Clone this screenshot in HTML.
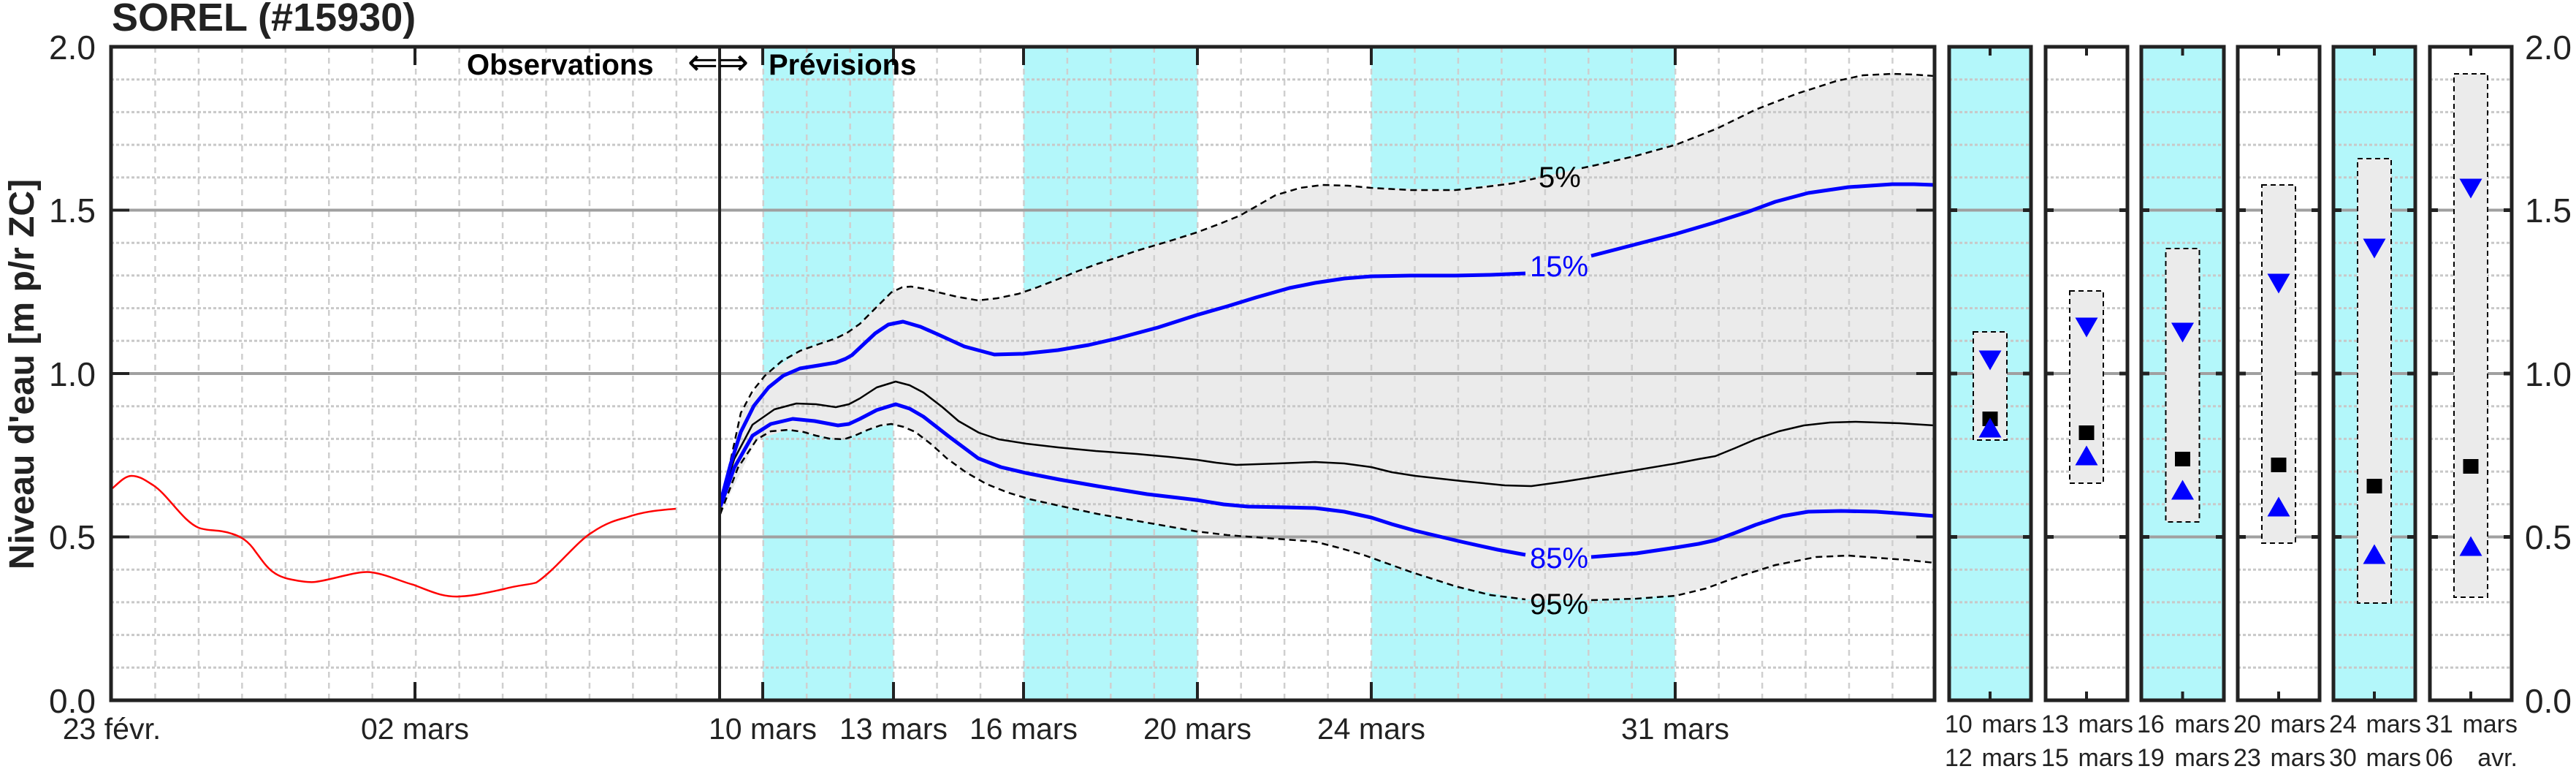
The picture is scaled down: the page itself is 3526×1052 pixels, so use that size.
<!DOCTYPE html>
<html><head><meta charset="utf-8"><style>
html,body{margin:0;padding:0;background:#fff;}
svg{display:block;font-family:"Liberation Sans",Arial,sans-serif;}
</style></head><body>
<svg width="3526" height="1052" viewBox="0 0 3526 1052" xmlns="http://www.w3.org/2000/svg">
<defs>
<clipPath id="main"><rect x="152" y="64" width="2496" height="894"/></clipPath>
</defs>
<rect width="3526" height="1052" fill="#fff"/>

<g fill="#b3f7fa">
<rect x="1044" y="64" width="179" height="894"/>
<rect x="1401" y="64" width="238" height="894"/>
<rect x="1877" y="64" width="416" height="894"/>
</g>

<path clip-path="url(#main)" fill="#ebebeb" d="M986,703 L1014,565 L1047,514 L1095,480 L1144,463 L1177,443 L1220,400 L1247,392 L1285,400 L1339,411 L1394,402 L1448,382 L1502,361 L1556,343 L1638,318 L1697,295 L1746,267 L1810,253 L1877,257 L1992,260 L2102,244 L2184,226 L2294,198 L2403,150 L2513,111 L2590,101 L2648,104 L2648,770 L2568,763 L2486,762 L2376,790 L2294,815 L2178,821 L2088,820 L1992,802 L1866,759 L1800,741 L1719,735 L1638,727 L1502,703 L1410,683 L1350,662 L1296,627 L1253,591 L1220,580 L1188,588 L1155,601 L1117,596 L1079,588 L1036,601 Z"/>

<g clip-path="url(#main)">
<g stroke="#cfcfcf" stroke-width="2.5" stroke-dasharray="8,7" id="vg"></g>
<g stroke="#c8c8c8" stroke-width="3" stroke-dasharray="4,3" id="hg"></g>
<g stroke="#a0a0a0" stroke-width="4">
<line x1="152" y1="734.5" x2="2648" y2="734.5"/>
<line x1="152" y1="511" x2="2648" y2="511"/>
<line x1="152" y1="287.5" x2="2648" y2="287.5"/>
</g>
</g>

<path fill="none" stroke="#ff0000" stroke-width="2.5" stroke-linejoin="round" d="M154,668 C165,658 172,651 180,651 C192,651 200,658 210,664 C230,677 250,713 272,722 C285,727 300,724 317,730 C330,734 340,740 350,755 C365,775 372,788 400,793 C415,796 425,797 432,796 C460,792 490,780 509,783 C530,786 550,796 566,800 C590,809 605,817 629,816 C650,815 670,810 689,806 C710,800 725,800 734,797 C760,780 790,740 811,728 C830,715 845,711 857,708 C880,700 900,698 925,696"/>

<g fill="none" stroke-linejoin="round" stroke-linecap="butt">
<polyline stroke="#000" stroke-width="2.5" stroke-dasharray="9,6" points="986,703 1000,630 1014,565 1030,535 1047,514 1070,494 1095,480 1120,471 1144,463 1160,455 1177,443 1200,420 1220,400 1235,393 1247,392 1265,395 1285,400 1310,406 1339,411 1365,408 1394,402 1420,393 1448,382 1475,371 1502,361 1530,352 1556,343 1600,330 1638,318 1670,306 1697,295 1720,282 1746,267 1780,257 1810,253 1845,254 1877,257 1930,260 1992,260 2030,256 2070,251 2102,244"/>
<polyline stroke="#000" stroke-width="2.5" stroke-dasharray="9,6" points="2165,230 2184,226 2240,213 2294,198 2350,176 2403,150 2460,128 2513,111 2550,103 2590,101 2620,102 2648,104"/>
<polyline stroke="#000" stroke-width="2.5" stroke-dasharray="9,6" points="986,703 1010,640 1036,601 1055,590 1079,588 1100,591 1117,596 1135,600 1155,601 1170,596 1188,588 1205,582 1220,580 1237,584 1253,591 1275,608 1296,627 1322,646 1350,662 1380,674 1410,683 1455,693 1502,703 1570,715 1638,727 1680,732 1719,735 1760,738 1800,741 1835,750 1866,759 1930,782 1992,802 2040,814 2088,820"/>
<polyline stroke="#000" stroke-width="2.5" stroke-dasharray="9,6" points="2178,821 2240,819 2294,815 2335,805 2376,790 2430,773 2486,762 2530,760 2568,763 2610,766 2648,770"/>
<polyline stroke="#000" stroke-width="2.5" points="986,688 1005,628 1030,581 1060,560 1090,552 1117,553 1144,557 1162,553 1177,545 1200,530 1226,522 1245,527 1264,537 1290,557 1312,576 1340,592 1367,601 1405,607 1448,612 1500,617 1556,621 1600,625 1638,629 1665,633 1692,636 1750,634 1800,632 1840,634 1877,639 1905,646 1937,651 2000,658 2060,664 2096,665 2140,659 2184,652 2240,643 2294,634 2325,628 2348,624 2375,613 2403,601 2435,590 2469,582 2505,578 2540,577 2600,579 2648,582"/>
<polyline stroke="#0000ff" stroke-width="5" points="986,688 1000,635 1014,591 1032,555 1052,530 1072,514 1095,504 1120,500 1144,496 1157,491 1166,486 1182,471 1198,456 1216,444 1236,440 1260,447 1285,458 1320,474 1361,485 1400,484 1448,479 1490,472 1529,463 1585,448 1638,431 1680,419 1719,407 1765,394 1800,387 1840,381 1877,378 1930,377 1992,377 2040,376 2088,374"/>
<polyline stroke="#0000ff" stroke-width="5" points="2178,350 2240,334 2294,320 2345,305 2392,290 2430,276 2475,264 2530,256 2590,252 2620,252 2648,253"/>
<polyline stroke="#0000ff" stroke-width="5" points="986,693 1005,640 1030,596 1055,580 1085,573 1115,576 1147,582 1162,580 1177,573 1200,561 1226,553 1245,559 1264,570 1300,598 1339,627 1370,639 1404,647 1450,656 1502,665 1570,676 1638,684 1675,690 1708,693 1760,694 1800,695 1840,700 1877,708 1905,717 1937,726 2000,741 2050,752 2088,759"/>
<polyline stroke="#0000ff" stroke-width="5" points="2178,762 2240,757 2294,749 2325,744 2348,739 2375,729 2403,718 2440,706 2475,700 2520,699 2568,700 2610,703 2648,706"/>
</g>

<g font-size="40">
<text x="2106" y="256" fill="#000">5%</text>
<text x="2094" y="378" fill="#0000ff">15%</text>
<text x="2094" y="777" fill="#0000ff">85%</text>
<text x="2094" y="840" fill="#000">95%</text>
</g>

<g stroke="#222" fill="none">
<rect x="152" y="64" width="2496" height="894" stroke-width="5"/>
<line x1="985" y1="64" x2="985" y2="958" stroke-width="4"/>
</g>
<g stroke="#222" stroke-width="4" id="mt"></g>

<g font-weight="bold" fill="#000" font-size="40">
<text x="639" y="102">Observations</text>
<text x="1052" y="102">Prévisions</text>
</g>
<text x="941" y="102" font-size="50" textLength="84" lengthAdjust="spacingAndGlyphs" fill="#000">⇐⇒</text>

<text x="153" y="42" font-size="54" font-weight="bold" fill="#222">SOREL (#15930)</text>
<text transform="translate(46,512) rotate(-90)" text-anchor="middle" font-size="48" font-weight="bold" fill="#222">Niveau d'eau [m p/r ZC]</text>

<g font-size="46" fill="#222" text-anchor="end">
<text x="131" y="81">2.0</text>
<text x="131" y="304">1.5</text>
<text x="131" y="528">1.0</text>
<text x="131" y="751">0.5</text>
<text x="131" y="975">0.0</text>
</g>
<g font-size="46" fill="#222">
<text x="3456" y="81">2.0</text>
<text x="3456" y="304">1.5</text>
<text x="3456" y="528">1.0</text>
<text x="3456" y="751">0.5</text>
<text x="3456" y="975">0.0</text>
</g>

<g font-size="41" fill="#222" text-anchor="middle">
<text x="153" y="1011">23 févr.</text>
<text x="568" y="1011">02 mars</text>
<text x="1044" y="1011">10 mars</text>
<text x="1223" y="1011">13 mars</text>
<text x="1401" y="1011">16 mars</text>
<text x="1639" y="1011">20 mars</text>
<text x="1877" y="1011">24 mars</text>
<text x="2293" y="1011">31 mars</text>
</g>

<g id="panels"></g>

<script>
(function(){
var NS="http://www.w3.org/2000/svg";
function el(p,t,a){var e=document.createElementNS(NS,t);for(var k in a)e.setAttribute(k,a[k]);p.appendChild(e);return e;}
function Y(v){return 958-447*v;}
var vg=document.getElementById('vg');
for(var d=1;d<42;d++){var x=153+59.45*d;el(vg,'line',{x1:x,y1:64,x2:x,y2:958});}
var hg=document.getElementById('hg');
for(var i=1;i<20;i++){if(i%5==0)continue;var y=Y(i/10);el(hg,'line',{x1:152,y1:y,x2:2648,y2:y});}
var mt=document.getElementById('mt');
[568,1044,1223,1401,1639,1877,2293].forEach(function(x){
 el(mt,'line',{x1:x,y1:958,x2:x,y2:933});el(mt,'line',{x1:x,y1:64,x2:x,y2:89});});
[0.5,1,1.5].forEach(function(v){var y=Y(v);
 el(mt,'line',{x1:152,y1:y,x2:177,y2:y});el(mt,'line',{x1:2648,y1:y,x2:2623,y2:y});});
var P=document.getElementById('panels');
var pan=[
 [2668,2780,1,454,602,493,573,585,'10','12','mars','mars'],
 [2800,2912,0,398,661,448,592,623,'13','15','mars','mars'],
 [2931,3044,1,340,714,455,628,670,'16','19','mars','mars'],
 [3063,3175,0,253,743,388,636,693,'20','23','mars','mars'],
 [3194,3306,1,217,825,340,665,758,'24','30','mars','mars'],
 [3326,3438,0,101,817,258,638,747,'31','06','mars','avr.']];
pan.forEach(function(p){
 var L=p[0],R=p[1],c=(L+R)/2;
 if(p[2])el(P,'rect',{x:L,y:64,width:R-L,height:894,fill:'#b3f7fa'});
 for(var i=1;i<20;i++){if(i%5==0)continue;var y=Y(i/10);
  el(P,'line',{x1:L,y1:y,x2:R,y2:y,stroke:'#c8c8c8','stroke-width':3,'stroke-dasharray':'4,3'});}
 [0.5,1,1.5].forEach(function(v){var y=Y(v);
  el(P,'line',{x1:L,y1:y,x2:R,y2:y,stroke:'#a0a0a0','stroke-width':4});});
 el(P,'rect',{x:c-23,y:p[3],width:46,height:p[4]-p[3],fill:'#ebebeb',stroke:'#000','stroke-width':2,'stroke-dasharray':'7,5'});
 var d=p[5];el(P,'polygon',{points:(c-15.5)+','+(d-13.5)+' '+(c+15.5)+','+(d-13.5)+' '+c+','+(d+13.5),fill:'#0000ff'});
 var s=p[6];el(P,'rect',{x:c-10.5,y:s-10,width:21,height:20,fill:'#000'});
 var u=p[7];el(P,'polygon',{points:(c-15.5)+','+(u+13.5)+' '+(c+15.5)+','+(u+13.5)+' '+c+','+(u-13.5),fill:'#0000ff'});
 el(P,'rect',{x:L,y:64,width:R-L,height:894,fill:'none',stroke:'#222','stroke-width':5});
 el(P,'line',{x1:c,y1:64,x2:c,y2:76,stroke:'#222','stroke-width':4});
 el(P,'line',{x1:c,y1:958,x2:c,y2:946,stroke:'#222','stroke-width':4});
 [0.5,1,1.5].forEach(function(v){var y=Y(v);
  el(P,'line',{x1:L,y1:y,x2:L+11,y2:y,stroke:'#222','stroke-width':5});
  el(P,'line',{x1:R,y1:y,x2:R-11,y2:y,stroke:'#222','stroke-width':5});});
 var t;
 t=el(P,'text',{x:L-6,y:1002,'font-size':34,fill:'#222'});t.textContent=p[8];
 t=el(P,'text',{x:R+8,y:1002,'font-size':34,fill:'#222','text-anchor':'end'});t.textContent=p[10];
 t=el(P,'text',{x:L-6,y:1048,'font-size':34,fill:'#222'});t.textContent=p[9];
 t=el(P,'text',{x:R+8,y:1048,'font-size':34,fill:'#222','text-anchor':'end'});t.textContent=p[11];
});
})();
</script>
</svg>
</body></html>
